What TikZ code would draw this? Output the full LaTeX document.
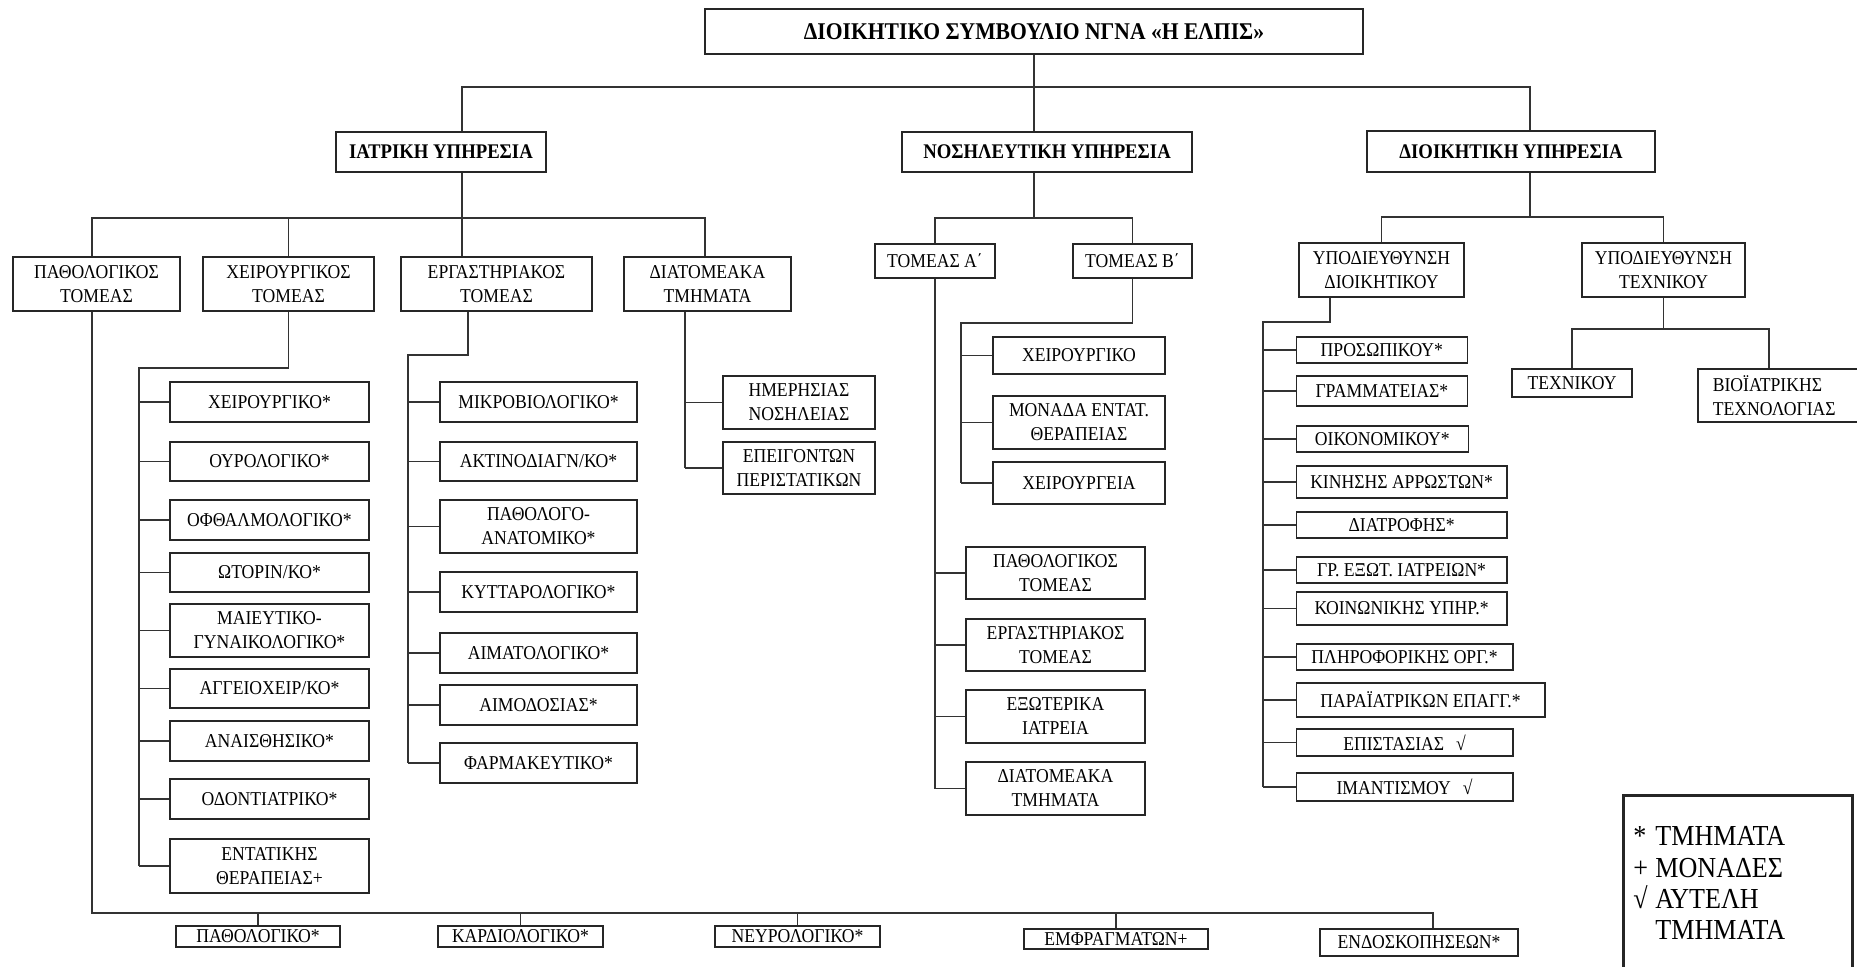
\documentclass[tikz,border=0pt]{standalone}
\usepackage{fontspec}
\setmainfont{Liberation Serif}[FakeStretch=0.9]
\tikzset{
  box/.style={draw=black!85, line width=0.8pt, inner sep=0pt, align=center,
    font=\fontsize{9.8}{12}\selectfont},
  headbox/.style={box, font=\fontsize{10.4}{12}\selectfont\bfseries},
  wh/.style 2 args={minimum width=#1*0.5pt, minimum height=#2*0.5pt},
  link/.style={draw=black!80, line width=0.8pt},
  legline/.style={anchor=base west, inner sep=0pt, font=\fontsize{14.5}{16}\selectfont},
}

\begin{document}
\begin{tikzpicture}[x=0.5pt, y=-0.5pt]

  % Page.
  \fill[white] (0,0) rectangle (1857,967);
  \useasboundingbox (0,0) rectangle (1857,967);

  % Board and services.
  \node[headbox, wh={658}{45}, font=\fontsize{12}{14}\selectfont\bfseries]
    (board) at (1034,31.5) {ΔΙΟΙΚΗΤΙΚΟ ΣΥΜΒΟΥΛΙΟ ΝΓΝΑ «Η ΕΛΠΙΣ»};
  \node[headbox, wh={210}{40}] (iatr) at (441,152) {ΙΑΤΡΙΚΗ ΥΠΗΡΕΣΙΑ};
  \node[headbox, wh={290}{40}] (nosil) at (1047,152) {ΝΟΣΗΛΕΥΤΙΚΗ ΥΠΗΡΕΣΙΑ};
  \node[headbox, wh={288}{41}] (dioik) at (1511,151.5) {ΔΙΟΙΚΗΤΙΚΗ ΥΠΗΡΕΣΙΑ};

  % Medical sectors.
  \node[box, wh={167}{54}] (pathT) at (96.5,284) {ΠΑΘΟΛΟΓΙΚΟΣ\\ΤΟΜΕΑΣ};
  \node[box, wh={171}{54}] (xeirT) at (288.5,284) {ΧΕΙΡΟΥΡΓΙΚΟΣ\\ΤΟΜΕΑΣ};
  \node[box, wh={191}{54}] (ergT) at (496.5,284) {ΕΡΓΑΣΤΗΡΙΑΚΟΣ\\ΤΟΜΕΑΣ};
  \node[box, wh={167}{54}] (diatT) at (707.5,284) {ΔΙΑΤΟΜΕΑΚΑ\\ΤΜΗΜΑΤΑ};

  % Surgical departments.
  \node[box, wh={199}{40}] (xs1) at (269.5,402) {ΧΕΙΡΟΥΡΓΙΚΟ*};
  \node[box, wh={199}{39}] (xs2) at (269.5,461.5) {ΟΥΡΟΛΟΓΙΚΟ*};
  \node[box, wh={199}{40}] (xs3) at (269.5,520) {ΟΦΘΑΛΜΟΛΟΓΙΚΟ*};
  \node[box, wh={199}{39}] (xs4) at (269.5,572.5) {ΩΤΟΡΙΝ/ΚΟ*};
  \node[box, wh={199}{53}] (xs5) at (269.5,630.5) {ΜΑΙΕΥΤΙΚΟ-\\ΓΥΝΑΙΚΟΛΟΓΙΚΟ*};
  \node[box, wh={199}{39}] (xs6) at (269.5,688.5) {ΑΓΓΕΙΟΧΕΙΡ/ΚΟ*};
  \node[box, wh={199}{40}] (xs7) at (269.5,741) {ΑΝΑΙΣΘΗΣΙΚΟ*};
  \node[box, wh={199}{40}] (xs8) at (269.5,799) {ΟΔΟΝΤΙΑΤΡΙΚΟ*};
  \node[box, wh={199}{54}] (xs9) at (269.5,866) {ΕΝΤΑΤΙΚΗΣ\\ΘΕΡΑΠΕΙΑΣ+};

  % Laboratory departments.
  \node[box, wh={197}{40}] (lab1) at (538.5,402) {ΜΙΚΡΟΒΙΟΛΟΓΙΚΟ*};
  \node[box, wh={197}{39}] (lab2) at (538.5,461.5) {ΑΚΤΙΝΟΔΙΑΓΝ/ΚΟ*};
  \node[box, wh={197}{53}] (lab3) at (538.5,526.5) {ΠΑΘΟΛΟΓΟ-\\ΑΝΑΤΟΜΙΚΟ*};
  \node[box, wh={197}{40}] (lab4) at (538.5,592) {ΚΥΤΤΑΡΟΛΟΓΙΚΟ*};
  \node[box, wh={197}{40}] (lab5) at (538.5,653) {ΑΙΜΑΤΟΛΟΓΙΚΟ*};
  \node[box, wh={197}{40}] (lab6) at (538.5,705) {ΑΙΜΟΔΟΣΙΑΣ*};
  \node[box, wh={197}{40}] (lab7) at (538.5,763) {ΦΑΡΜΑΚΕΥΤΙΚΟ*};

  % Interdepartmental.
  \node[box, wh={152}{53}] (dt1) at (799,402.5) {ΗΜΕΡΗΣΙΑΣ\\ΝΟΣΗΛΕΙΑΣ};
  \node[box, wh={152}{52}] (dt2) at (799,468) {ΕΠΕΙΓΟΝΤΩΝ\\ΠΕΡΙΣΤΑΤΙΚΩΝ};

  % Nursing sectors.
  \node[box, wh={120}{34}] (tomA) at (935,261) {ΤΟΜΕΑΣ Α΄};
  \node[box, wh={119}{34}] (tomB) at (1132.5,261) {ΤΟΜΕΑΣ Β΄};
  \node[box, wh={179}{52}] (sa1) at (1055.5,573) {ΠΑΘΟΛΟΓΙΚΟΣ\\ΤΟΜΕΑΣ};
  \node[box, wh={179}{52}] (sa2) at (1055.5,645) {ΕΡΓΑΣΤΗΡΙΑΚΟΣ\\ΤΟΜΕΑΣ};
  \node[box, wh={179}{53}] (sa3) at (1055.5,716.5) {ΕΞΩΤΕΡΙΚΑ\\ΙΑΤΡΕΙΑ};
  \node[box, wh={179}{53}] (sa4) at (1055.5,788.5) {ΔΙΑΤΟΜΕΑΚΑ\\ΤΜΗΜΑΤΑ};
  \node[box, wh={172}{37}] (sb1) at (1079,355.5) {ΧΕΙΡΟΥΡΓΙΚΟ};
  \node[box, wh={172}{53}] (sb2) at (1079,422.5) {ΜΟΝΑΔΑ ΕΝΤΑΤ.\\ΘΕΡΑΠΕΙΑΣ};
  \node[box, wh={172}{42}] (sb3) at (1079,483) {ΧΕΙΡΟΥΡΓΕΙΑ};

  % Administration.
  \node[box, wh={165}{54}] (ypD) at (1381.5,270) {ΥΠΟΔΙΕΥΘΥΝΣΗ\\ΔΙΟΙΚΗΤΙΚΟΥ};
  \node[box, wh={163}{54}] (ypT) at (1663.5,270) {ΥΠΟΔΙΕΥΘΥΝΣΗ\\ΤΕΧΝΙΚΟΥ};
  \node[box, wh={171}{26}, anchor=west] (ad1) at (1295.5,350) {ΠΡΟΣΩΠΙΚΟΥ*};
  \node[box, wh={171}{30}, anchor=west] (ad2) at (1295.5,391) {ΓΡΑΜΜΑΤΕΙΑΣ*};
  \node[box, wh={172}{26}, anchor=west] (ad3) at (1295.5,439) {ΟΙΚΟΝΟΜΙΚΟΥ*};
  \node[box, wh={210.5}{32}, anchor=west] (ad4) at (1295.5,482) {ΚΙΝΗΣΗΣ ΑΡΡΩΣΤΩΝ*};
  \node[box, wh={210.5}{26}, anchor=west] (ad5) at (1295.5,525) {ΔΙΑΤΡΟΦΗΣ*};
  \node[box, wh={210.5}{26}, anchor=west] (ad6) at (1295.5,570) {ΓΡ. ΕΞΩΤ. ΙΑΤΡΕΙΩΝ*};
  \node[box, wh={210.5}{33}, anchor=west] (ad7) at (1295.5,608.5) {ΚΟΙΝΩΝΙΚΗΣ ΥΠΗΡ.*};
  \node[box, wh={216.5}{26}, anchor=west] (ad8) at (1295.5,657) {ΠΛΗΡΟΦΟΡΙΚΗΣ ΟΡΓ.*};
  \node[box, wh={248.5}{34}, anchor=west] (ad9) at (1295.5,700) {ΠΑΡΑΪΑΤΡΙΚΩΝ ΕΠΑΓΓ.*};
  \node[box, wh={216.5}{27}, anchor=west] (ad10) at (1295.5,742.5) {ΕΠΙΣΤΑΣΙΑΣ\hspace{6pt}√};
  \node[box, wh={216.5}{28}, anchor=west] (ad11) at (1295.5,787) {ΙΜΑΝΤΙΣΜΟΥ\hspace{6pt}√};
  \node[box, wh={120}{28}] (tx1) at (1572,383) {ΤΕΧΝΙΚΟΥ};
  \node[box, wh={186}{53}, anchor=west, align=left, inner xsep=7.5pt, text width=78pt]
    (tx2) at (1697,395.5) {ΒΙΟΪΑΤΡΙΚΗΣ\\ΤΕΧΝΟΛΟΓΙΑΣ};

  % Bottom row.
  \node[box, wh={164}{21}] (ex1) at (258,936.5) {ΠΑΘΟΛΟΓΙΚΟ*};
  \node[box, wh={165}{21}] (ex2) at (520.5,936.5) {ΚΑΡΔΙΟΛΟΓΙΚΟ*};
  \node[box, wh={165}{21}] (ex3) at (797.5,936.5) {ΝΕΥΡΟΛΟΓΙΚΟ*};
  \node[box, wh={184}{20}] (ex4) at (1116,939) {ΕΜΦΡΑΓΜΑΤΩΝ+};
  \node[box, wh={198}{27}] (ex5) at (1419,942.5) {ΕΝΔΟΣΚΟΠΗΣΕΩΝ*};

  % Legend.
  \node[draw=black!85, line width=1.5pt, wh={229}{185}] (legend) at (1737.5,887.5) {};
  \node[legline] (leg1) at (1633,845) {\makebox[11pt][l]{*}ΤΜΗΜΑΤΑ};
  \node[legline] (leg2) at (1633,877) {\makebox[11pt][l]{+}ΜΟΝΑΔΕΣ};
  \node[legline] (leg3) at (1633,908) {\makebox[11pt][l]{√}ΑΥΤΕΛΗ};
  \node[legline] (leg4) at (1633,939) {\hspace*{11pt}ΤΜΗΜΑΤΑ};

  % Links: board to services.
  \coordinate (bus0L) at (462,87);
  \coordinate (bus0R) at (1530,87);
  \draw[link] (board.south) -- (board.south |- nosil.north);
  \draw[link] (bus0L |- iatr.north) -- (bus0L) -- (bus0R) -- (bus0R |- dioik.north);

  % Medical service to sectors.
  \coordinate (bus1L) at (92,218);
  \coordinate (bus1R) at (705,218);
  \draw[link] (bus0L |- iatr.south) -- (bus0L |- bus1L);
  \draw[link] (bus1L |- pathT.north) -- (bus1L) -- (bus1R) -- (bus1R |- diatT.north);
  \draw[link] (xeirT.north) -- (xeirT.north |- bus1L);
  \draw[link] (bus0L |- bus1L) -- (bus0L |- ergT.north);

  % Nursing service to sectors.
  \coordinate (bus2) at (0,218);
  \draw[link] (board.south |- nosil.south) -- (board.south |- bus2);
  \draw[link] (tomA.north) -- (tomA.north |- bus2) -- (tomB.north |- bus2) -- (tomB.north);

  % Administration to sub-directorates.
  \coordinate (bus3) at (0,217);
  \draw[link] (bus0R |- dioik.south) -- (bus0R |- bus3);
  \draw[link] (ypD.north) -- (ypD.north |- bus3) -- (ypT.north |- bus3) -- (ypT.north);

  % Surgical list.
  \coordinate (bus4) at (139,368);
  \draw[link] (xeirT.south) -- (xeirT.south |- bus4) -- (bus4) -- (bus4 |- xs9.west);
  \foreach \i in {1,...,9} {
    \draw[link] (bus4 |- xs\i.west) -- (xs\i.west);
  }

  % Laboratory list.
  \coordinate (bus5t) at (468,355);
  \coordinate (bus5) at (408,355);
  \draw[link] (bus5t |- ergT.south) -- (bus5t) -- (bus5) -- (bus5 |- lab7.west);
  \foreach \i in {1,...,7} {
    \draw[link] (bus5 |- lab\i.west) -- (lab\i.west);
  }

  % Interdepartmental list.
  \coordinate (bus6) at (685,0);
  \draw[link] (bus6 |- diatT.south) -- (bus6 |- dt2.west);
  \foreach \i in {1,2} {
    \draw[link] (bus6 |- dt\i.west) -- (dt\i.west);
  }

  % Sector A list.
  \draw[link] (tomA.south) -- (tomA.south |- sa4.west);
  \foreach \i in {1,...,4} {
    \draw[link] (tomA.south |- sa\i.west) -- (sa\i.west);
  }

  % Sector B list.
  \coordinate (bus7) at (961,323);
  \draw[link] (tomB.south) -- (tomB.south |- bus7) -- (bus7) -- (bus7 |- sb3.west);
  \foreach \i in {1,...,3} {
    \draw[link] (bus7 |- sb\i.west) -- (sb\i.west);
  }

  % Administrative list.
  \coordinate (bus8t) at (1330,322);
  \coordinate (bus8) at (1263,322);
  \draw[link] (bus8t |- ypD.south) -- (bus8t) -- (bus8) -- (bus8 |- ad11.west);
  \foreach \i in {1,...,11} {
    \draw[link] (bus8 |- ad\i.west) -- (ad\i.west);
  }

  % Technical list.
  \coordinate (bus9L) at (1572,329);
  \coordinate (bus9R) at (1769,329);
  \draw[link] (ypT.south) -- (ypT.south |- bus9L);
  \draw[link] (tx1.north) -- (bus9L) -- (bus9R) -- (bus9R |- tx2.north);

  % Bottom row from the medical sector.
  \coordinate (bus10L) at (92,913);
  \coordinate (bus10R) at (1433,913);
  \draw[link] (bus10L |- pathT.south) -- (bus10L) -- (bus10R) -- (bus10R |- ex5.north);
  \foreach \i in {1,...,4} {
    \draw[link] (ex\i.north) -- (ex\i.north |- bus10L);
  }

\end{tikzpicture}
\end{document}
